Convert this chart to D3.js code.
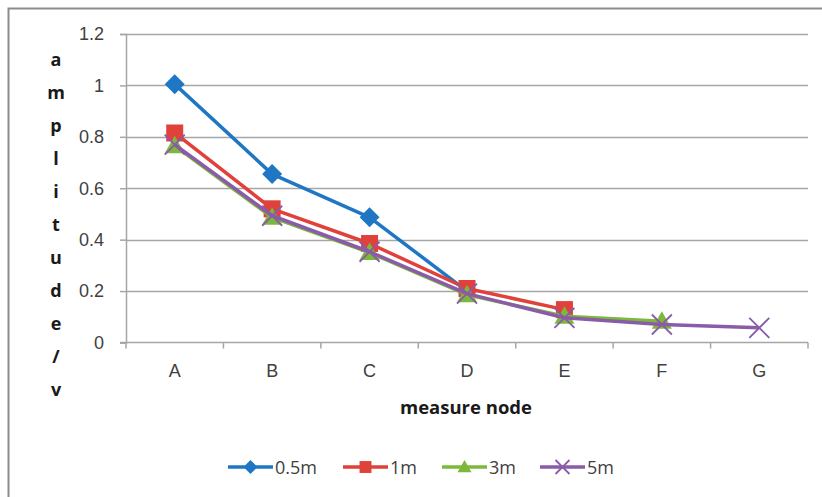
<!DOCTYPE html>
<html>
<head>
<meta charset="utf-8">
<script src="https://cdn.jsdelivr.net/npm/d3@7"></script>
<style>
  body { margin: 0; background: #fff; }
  svg { font-family: "Open Sans", "Liberation Sans", sans-serif; }
</style>
</head>
<body>
<div id="chart"></div>
<script>
// data
const nodes = ['A', 'B', 'C', 'D', 'E', 'F', 'G'];
const yTicks = [0, 0.2, 0.4, 0.6, 0.8, 1, 1.2];
const s05 = [1.005, 0.655, 0.487, 0.2];
const s1 = [0.815, 0.52, 0.385, 0.21, 0.128];
const s3 = [0.765, 0.487, 0.35, 0.186, 0.102, 0.083];
const s5 = [0.77, 0.493, 0.353, 0.19, 0.096, 0.07, 0.057];

const width = 822, height = 497;
const margin = { left: 126, top: 34, right: 14, bottom: 154 };

const series = [
    { name: '0.5m', values: s05, color: '#1f77c4', symbol: 'diamond' },
    { name: '1m', values: s1, color: '#e0413a', symbol: 'square' },
    { name: '3m', values: s3, color: '#7cb83a', symbol: 'triangle' },
    { name: '5m', values: s5, color: '#8a5ba8', symbol: 'cross' }
];

const svg = d3.select('#chart').append('svg')
    .attr('width', width)
    .attr('height', height);

// outer chart frame (cut off at right/bottom)
svg.append('rect')
    .attr('x', 8.5).attr('y', 8.5)
    .attr('width', width + 20).attr('height', height + 20)
    .attr('fill', 'none').attr('stroke', '#8c8c8c').attr('stroke-width', 2);

const x = d3.scaleBand().domain(nodes).range([margin.left, width - margin.right]);
const y = d3.scaleLinear().domain([0, 1.2]).range([height - margin.bottom - 0.5, margin.top]);

// grid
svg.append('g')
    .selectAll('line').data(yTicks.filter(d => d > 0))
    .enter().append('line')
    .attr('x1', margin.left).attr('x2', width - margin.right)
    .attr('y1', d => Math.round(y(d)) + 0.5).attr('y2', d => Math.round(y(d)) + 0.5)
    .attr('stroke', '#a6a6a6').attr('stroke-width', 1.5);

// y axis
const yAxis = svg.append('g')
    .attr('transform', 'translate(' + margin.left + ',0)')
    .call(d3.axisLeft(y).tickValues(yTicks).tickSize(6).tickPadding(16).tickFormat(d3.format('')));
yAxis.select('.domain').attr('stroke', '#a6a6a6').attr('stroke-width', 1.5);
yAxis.selectAll('.tick line').attr('stroke', '#a6a6a6').attr('stroke-width', 1.5);
yAxis.selectAll('text').attr('fill', '#404040').attr('font-size', 18);

// x axis with ticks on band edges
const x0 = y(0);
const xAxis = svg.append('g')
    .attr('transform', 'translate(0,' + x0 + ')')
    .call(d3.axisBottom(x).tickSize(0).tickPadding(22));
xAxis.select('.domain').remove();
xAxis.selectAll('text').attr('fill', '#404040').attr('font-size', 18);
svg.append('line')
    .attr('x1', margin.left - 6).attr('x2', width - margin.right)
    .attr('y1', x0).attr('y2', x0)
    .attr('stroke', '#a6a6a6').attr('stroke-width', 1.5);
svg.append('g')
    .selectAll('line').data(nodes.concat(['_end']))
    .enter().append('line')
    .attr('x1', (d, i) => margin.left + i * x.bandwidth())
    .attr('x2', (d, i) => margin.left + i * x.bandwidth())
    .attr('y1', x0).attr('y2', x0 + 6)
    .attr('stroke', '#a6a6a6').attr('stroke-width', 1.5);

// axis titles
svg.append('text')
    .attr('x', 466).attr('y', 414)
    .attr('text-anchor', 'middle')
    .attr('font-size', 18.5).attr('font-weight', 'bold').attr('fill', '#1a1a1a')
    .text('measure node');

const yLabel = 'amplitude/v'.split('');
svg.append('g')
    .selectAll('text').data(yLabel)
    .enter().append('text')
    .attr('x', 56)
    .attr('y', (d, i) => 66 + i * 33)
    .attr('text-anchor', 'middle')
    .attr('font-size', 18).attr('font-weight', 'bold').attr('fill', '#1a1a1a')
    .text(d => d);

// marker drawing
function marker(g, symbol, color, cx, cy, s) {
    if (symbol === 'diamond') {
        g.append('path')
            .attr('d', `M${cx},${cy - s}L${cx + s},${cy}L${cx},${cy + s}L${cx - s},${cy}Z`)
            .attr('fill', color);
    } else if (symbol === 'square') {
        g.append('rect')
            .attr('x', cx - s * 0.85).attr('y', cy - s * 0.85)
            .attr('width', s * 1.7).attr('height', s * 1.7)
            .attr('fill', color);
    } else if (symbol === 'triangle') {
        g.append('path')
            .attr('d', `M${cx},${cy - s}L${cx + s},${cy + s * 0.75}L${cx - s},${cy + s * 0.75}Z`)
            .attr('fill', color);
    } else {
        g.append('path')
            .attr('d', `M${cx - s},${cy - s}L${cx + s},${cy + s}M${cx - s},${cy + s}L${cx + s},${cy - s}`)
            .attr('stroke', color).attr('stroke-width', 1.8).attr('fill', 'none');
    }
}

const line = d3.line()
    .x((d, i) => x(nodes[i]) + x.bandwidth() / 2)
    .y(d => y(d));

series.forEach(s => {
    const g = svg.append('g');
    g.append('path')
        .datum(s.values)
        .attr('d', line)
        .attr('fill', 'none')
        .attr('stroke', s.color)
        .attr('stroke-width', 3.5)
        .attr('stroke-linejoin', 'round');
    s.values.forEach((v, i) => {
        marker(g, s.symbol, s.color, x(nodes[i]) + x.bandwidth() / 2, y(v), 10);
    });
});

// legend
const legendX = [228, 343, 442, 540];
series.forEach((s, i) => {
    const g = svg.append('g').attr('transform', 'translate(' + legendX[i] + ',467)');
    g.append('line')
        .attr('x1', 0).attr('x2', 45).attr('y1', 0).attr('y2', 0)
        .attr('stroke', s.color).attr('stroke-width', 3.5);
    marker(g, s.symbol, s.color, 22.5, 0, 7);
    g.append('text')
        .attr('x', 47).attr('y', 6.5)
        .attr('font-size', 18).attr('fill', '#404040')
        .text(s.name);
});
</script>
</body>
</html>
